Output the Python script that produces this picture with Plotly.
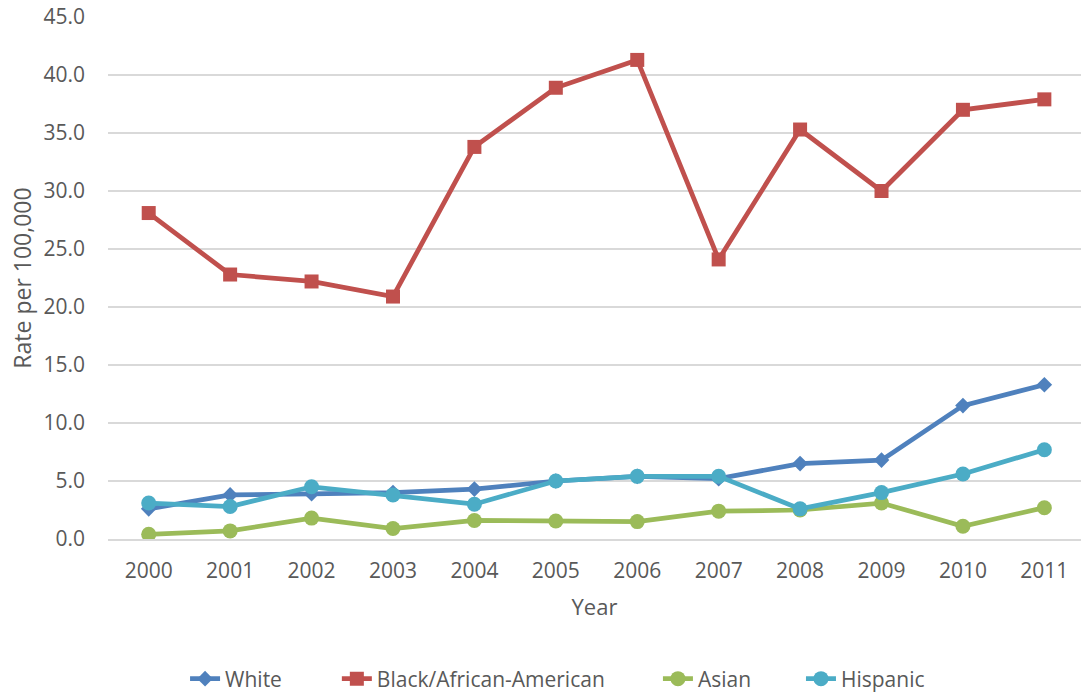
import plotly.graph_objects as go

years = ["2000", "2001", "2002", "2003", "2004", "2005",
         "2006", "2007", "2008", "2009", "2010", "2011"]

white = [2.6, 3.8, 3.9, 4.0, 4.3, 5.0, 5.4, 5.2, 6.5, 6.8, 11.5, 13.3]
black = [28.1, 22.8, 22.2, 20.9, 33.8, 38.9, 41.3, 24.1, 35.3, 30.0, 37.0, 37.9]
asian = [0.4, 0.7, 1.8, 0.9, 1.6, 1.55, 1.5, 2.4, 2.5, 3.1, 1.1, 2.7]
hispanic = [3.1, 2.8, 4.5, 3.8, 3.0, 5.0, 5.4, 5.4, 2.6, 4.0, 5.6, 7.7]

y_ticks = [0, 5, 10, 15, 20, 25, 30, 35, 40, 45]

FONT = "Open Sans"
TEXT = "#595959"
GRID = "#D9D9D9"

# name, values, colour, marker symbol, marker size, legend id, legend x
series = [
    ("White", white, "#4F81BD", "diamond", 12, "legend", 0.0792),
    ("Black/African-American", black, "#C0504D", "square", 14, "legend2", 0.2352),
    ("Asian", asian, "#9BBB59", "circle", 15, "legend3", 0.5652),
    ("Hispanic", hispanic, "#4BACC6", "circle", 15, "legend4", 0.7122),
]

fig = go.Figure()
legends = {}
for name, vals, color, symbol, size, leg, lx in series:
    fig.add_trace(go.Scatter(
        x=years, y=vals, name=name, mode="lines+markers",
        line=dict(color=color, width=4.75),
        marker=dict(symbol=symbol, size=size, color=color),
        legend=leg,
    ))
    legends[leg] = dict(
        orientation="h", x=lx, xanchor="left",
        y=0.0216, yref="container", yanchor="middle",
        font=dict(size=21, color=TEXT, family=FONT),
        bgcolor="rgba(0,0,0,0)",
    )

fig.update_layout(
    width=1081, height=694,
    margin=dict(l=108, r=0, t=17, b=155, autoexpand=False),
    paper_bgcolor="white", plot_bgcolor="white",
    font=dict(family=FONT, color=TEXT, size=21),
    showlegend=True,
    **legends,
)

fig.update_xaxes(
    type="category", range=[-0.5, 11.45], automargin=False,
    showgrid=False, showline=True, linecolor=GRID, linewidth=1.5,
    ticks="", tickfont=dict(size=21, color=TEXT),
    ticklabelstandoff=12,
    title=dict(text="Year", font=dict(size=22, color=TEXT), standoff=17),
)

fig.update_yaxes(
    range=[0, 45], tickvals=y_ticks, tickformat=".1f", automargin=False,
    showgrid=True, gridcolor=GRID, gridwidth=1.5,
    zeroline=False, showline=False, ticks="",
    tickfont=dict(size=21, color=TEXT),
    ticklabelstandoff=22,
    title=dict(text="Rate per 100,000", font=dict(size=23, color=TEXT), standoff=5),
)

fig.write_html("out.html")
